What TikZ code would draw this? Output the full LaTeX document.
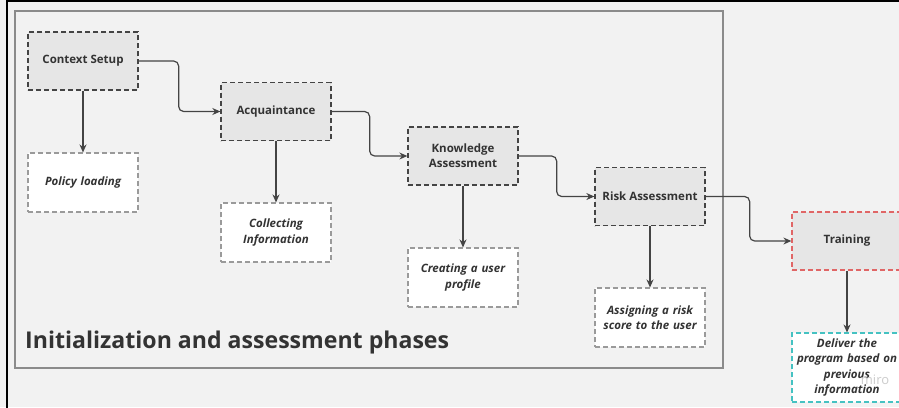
\documentclass[tikz,border=0pt]{standalone}
\usepackage{fontspec}
\setmainfont{Open Sans}
\usetikzlibrary{arrows.meta}
\definecolor{bg}{HTML}{F2F2F2}
\definecolor{boxfill}{HTML}{E6E6E6}
\definecolor{darkline}{HTML}{444444}
\definecolor{lightline}{HTML}{9A9A9A}
\definecolor{txt}{HTML}{333333}
\definecolor{redline}{HTML}{E06666}
\definecolor{cyanline}{HTML}{45C2C2}
\tikzset{
  phase/.style={draw=darkline, fill=boxfill, line width=1.3pt, dash pattern=on 5pt off 3pt,
    minimum width=110pt, minimum height=58pt, inner sep=2pt, align=center,
    font=\fontsize{11.5}{15}\selectfont\bfseries, text=txt},
  detail/.style={draw=lightline, fill=white, line width=1.1pt, dash pattern=on 5pt off 3pt,
    minimum width=110pt, minimum height=59pt, inner sep=2pt, align=center, text width=100pt,
    font=\fontsize{11.5}{15.5}\selectfont\bfseries\itshape, text=txt},
  flow/.style={draw=darkline, line width=1.2pt, -{Stealth[length=8pt,width=7pt]}, rounded corners=5pt},
}
\begin{document}
\begin{tikzpicture}[x=1pt,y=-1pt]
\useasboundingbox (0,0) rectangle (899,407);
\fill[bg] (0,0) rectangle (899,407);
% outer black border (top and left)
\draw[black, line width=2pt] (7,408) -- (7,1) -- (900,1);
% inner frame
\draw[lightline!90!black, line width=1.8pt] (15,11) rectangle (723,368);

\node[phase] (cs) at (83,61) {Context Setup};
\node[detail] (pl) at (83,182.5) {Policy loading};
\node[phase] (aq) at (276,111.5) {Acquaintance};
\node[detail] (ci) at (276,232.5) {Collecting\\Information};
\node[phase] (ka) at (463,156) {Knowledge\\Assessment};
\node[detail] (cp) at (463,277.5) {Creating a user\\profile};
\node[phase] (ra) at (650,196.5) {Risk Assessment};
\node[detail] (as) at (650,317.5) {Assigning a risk\\score to the user};
\node[phase, draw=redline] (tr) at (847,241) {Training};
\node[detail, draw=cyanline, minimum height=69pt, font=\fontsize{11.5}{15.5}\selectfont\bfseries\itshape] (dl) at (847,367.5) {Deliver the\\program based on\\previous\\information};

\node[anchor=base west, font=\fontsize{23.1}{27}\selectfont\bfseries, text=txt, inner sep=0pt] (title) at (25,348) {Initialization and assessment phases};
\node[font=\fontsize{13}{15}\selectfont, text=black!20, inner sep=0pt] (miro) at (875,380) {miro};

\draw[flow] (cs.east) -- ++(40,0) |- (aq.west);
\draw[flow] (aq.east) -- ++(38,0) |- (ka.west);
\draw[flow] (ka.east) -- ++(38,0) |- (ra.west);
\draw[flow] (ra.east) -- ++(44,0) |- (tr.west);
\draw[flow] (cs.south) -- (pl.north);
\draw[flow] (aq.south) -- (ci.north);
\draw[flow] (ka.south) -- (cp.north);
\draw[flow] (ra.south) -- (as.north);
\draw[flow] (tr.south) -- (dl.north);
\end{tikzpicture}
\end{document}
